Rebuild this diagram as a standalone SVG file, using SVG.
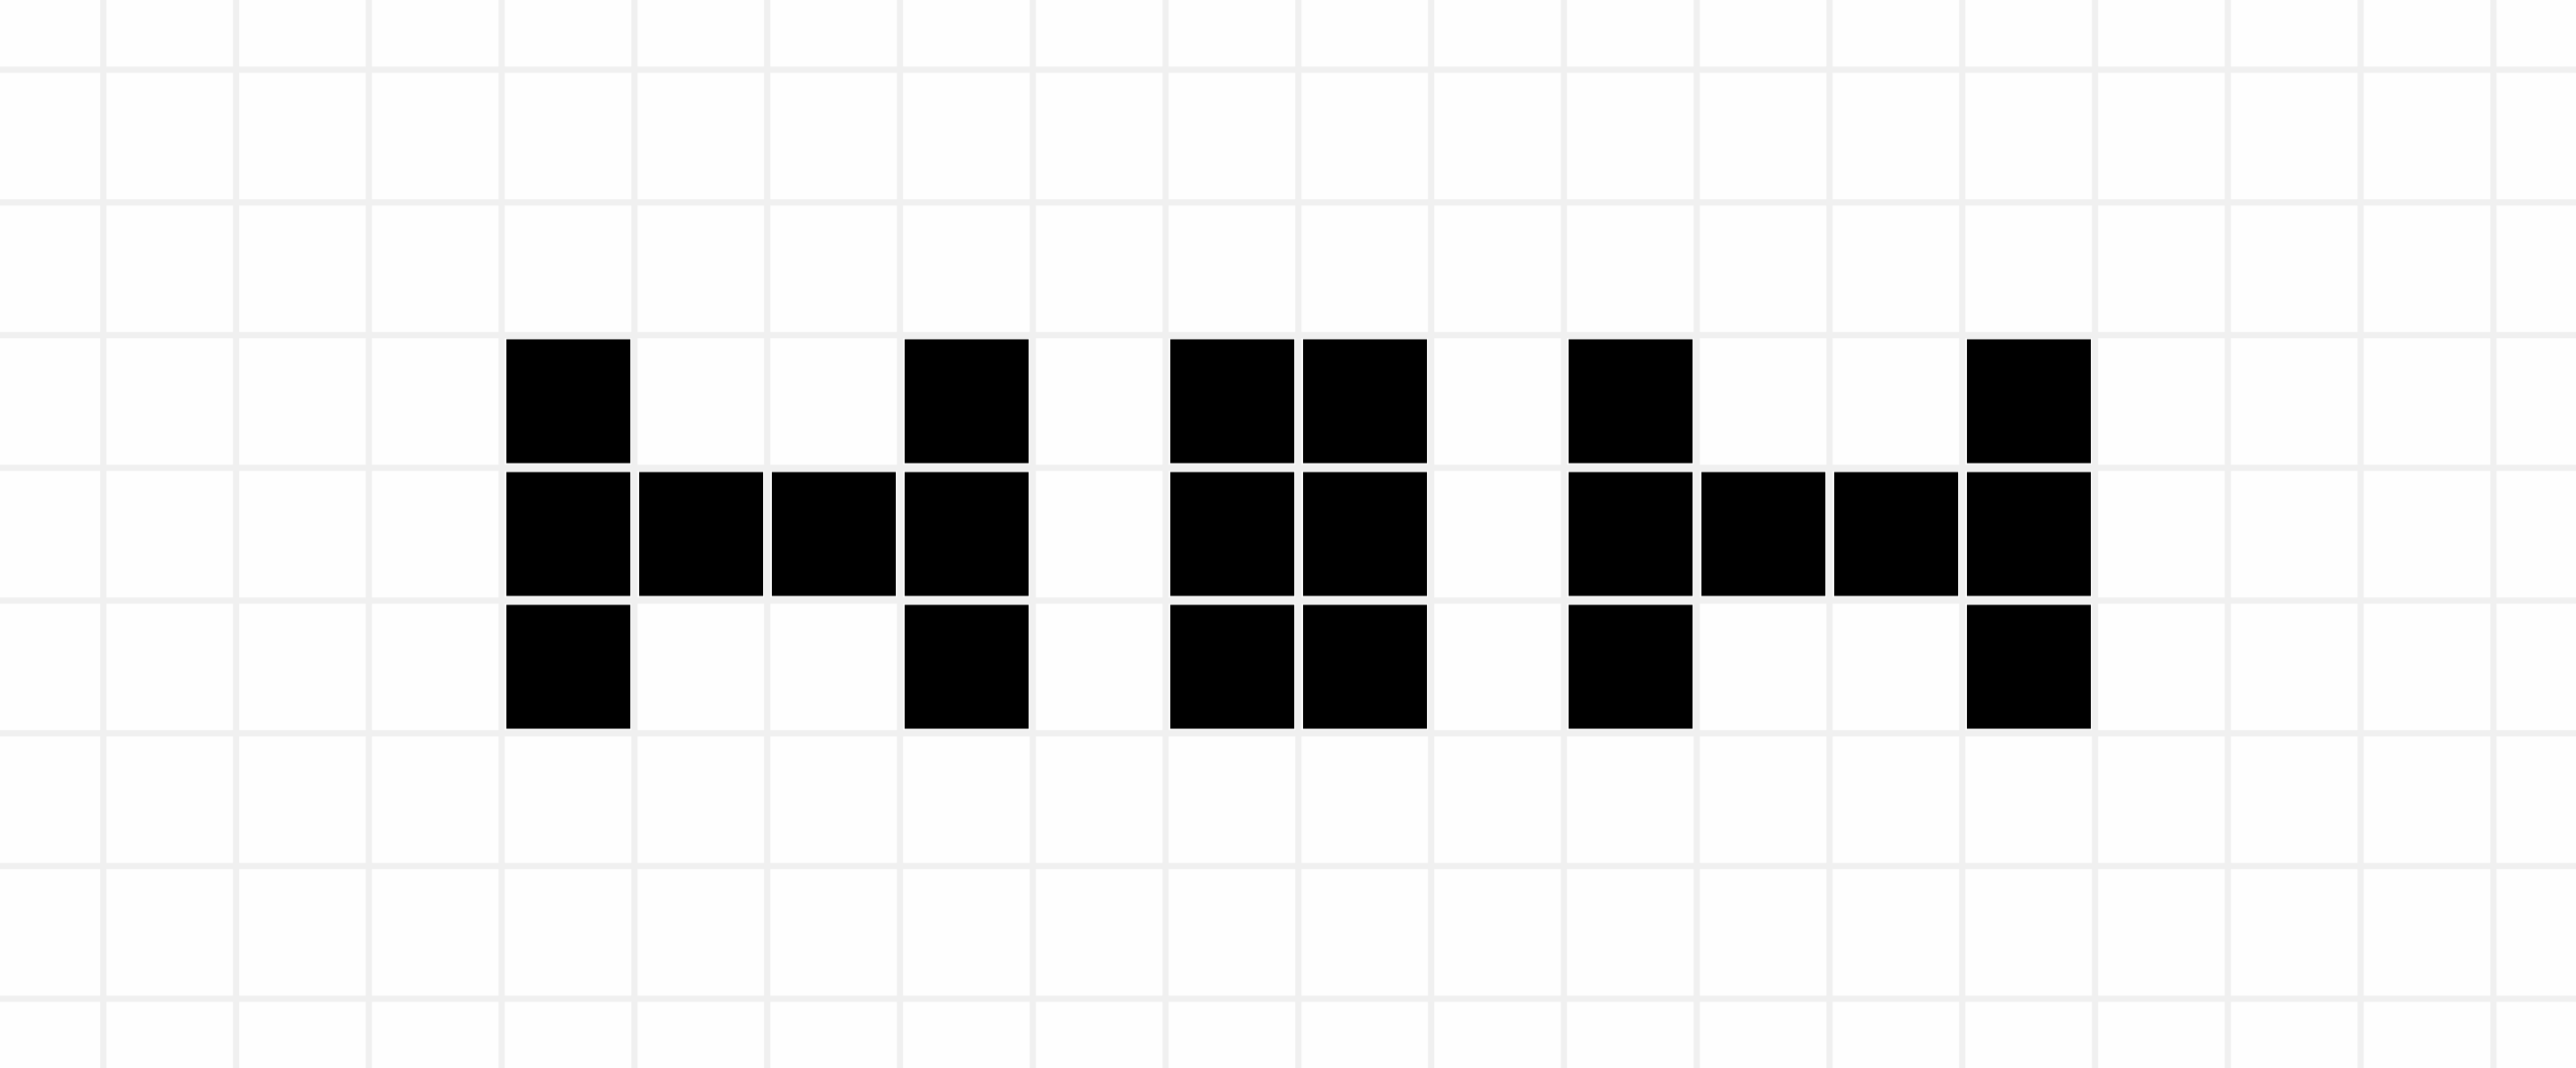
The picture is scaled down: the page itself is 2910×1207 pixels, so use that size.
<svg xmlns="http://www.w3.org/2000/svg" width="2910" height="1207" viewBox="0 0 2910 1207">
<style>
.g{stroke:#f0f0f0;stroke-width:7;fill:none}
.c{fill:#000}
</style>
<defs>
<rect id="sq" class="c" width="140" height="140"/>
</defs>
<rect width="2910" height="1207" fill="#fefefe"/>
<g id="grid" class="g">
<path d="M116.7 0V1207M266.7 0V1207M416.7 0V1207M566.7 0V1207M716.7 0V1207M866.7 0V1207M1016.7 0V1207M1166.7 0V1207M1316.7 0V1207M1466.7 0V1207M1616.7 0V1207M1766.7 0V1207M1916.7 0V1207M2066.7 0V1207M2216.7 0V1207M2366.7 0V1207M2516.7 0V1207M2666.7 0V1207M2816.7 0V1207"/>
<path d="M0 78.7H2910M0 228.7H2910M0 378.7H2910M0 528.7H2910M0 678.7H2910M0 828.7H2910M0 978.7H2910M0 1128.7H2910"/>
</g>
<g id="letter-H1">
<use href="#sq" x="572" y="383.5"/><use href="#sq" x="572" y="533.5"/><use href="#sq" x="572" y="683.5"/>
<use href="#sq" x="722" y="533.5"/><use href="#sq" x="872" y="533.5"/>
<use href="#sq" x="1022" y="383.5"/><use href="#sq" x="1022" y="533.5"/><use href="#sq" x="1022" y="683.5"/>
</g>
<g id="block">
<use href="#sq" x="1322" y="383.5"/><use href="#sq" x="1322" y="533.5"/><use href="#sq" x="1322" y="683.5"/>
<use href="#sq" x="1472" y="383.5"/><use href="#sq" x="1472" y="533.5"/><use href="#sq" x="1472" y="683.5"/>
</g>
<g id="letter-H2">
<use href="#sq" x="1772" y="383.5"/><use href="#sq" x="1772" y="533.5"/><use href="#sq" x="1772" y="683.5"/>
<use href="#sq" x="1922" y="533.5"/><use href="#sq" x="2072" y="533.5"/>
<use href="#sq" x="2222" y="383.5"/><use href="#sq" x="2222" y="533.5"/><use href="#sq" x="2222" y="683.5"/>
</g>
</svg>
